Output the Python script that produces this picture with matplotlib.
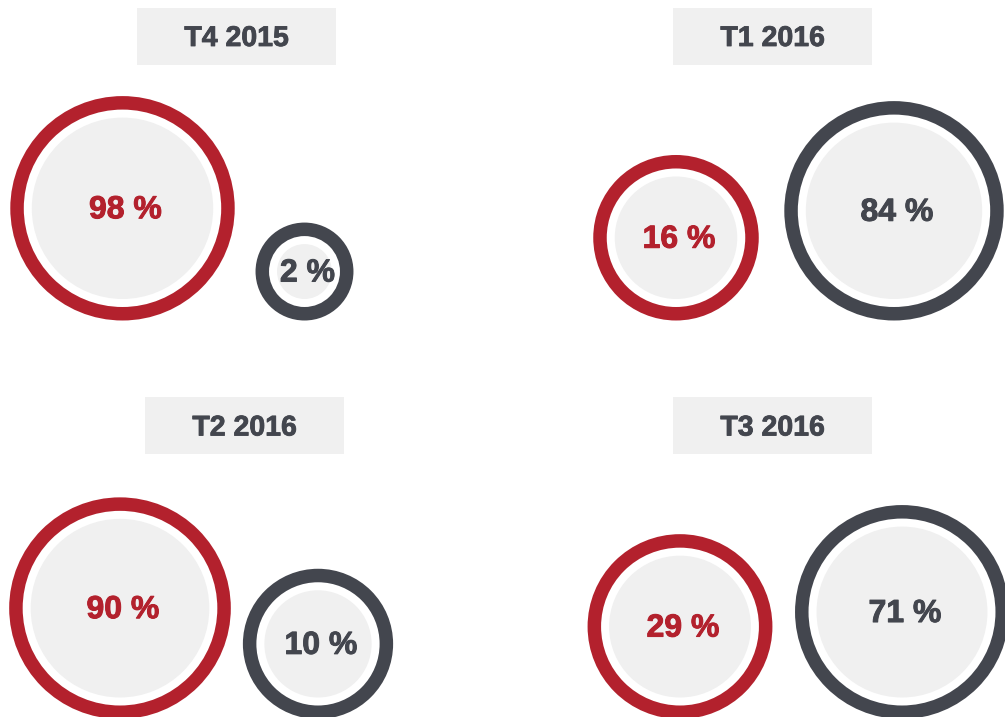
import numpy as np
import matplotlib
matplotlib.use("Agg")
import matplotlib.pyplot as plt
from matplotlib.patches import Circle, Rectangle
import matplotlib.patheffects as pe

# ---- data ----
quarters = ["T4 2015", "T1 2016", "T2 2016", "T3 2016"]
red_values = [98, 16, 90, 29]
dark_values = [2, 84, 10, 71]

# ---- styles / layout ----
RED = "#B3212D"
DARK = "#43464E"
FILL = "#F0F0F0"
FONT = ["Liberation Sans", "DejaVu Sans"]

W, H = 1005, 717
fig = plt.figure(figsize=(W / 100, H / 100), dpi=100)
ax = fig.add_axes([0, 0, 1, 1])
ax.set_xlim(0, W)
ax.set_ylim(H, 0)
ax.set_aspect("equal")
ax.axis("off")

# panel layout: title box (x, y), red centre x, dark centre x, baseline y
layout = [
    dict(box=(137, 7.5), rx=122.5, dx=304.5, base=320.5),
    dict(box=(673, 7.5), rx=676, dx=894, base=320.5),
    dict(box=(145, 397), rx=120, dx=318, base=719),
    dict(box=(673, 397), rx=680, dx=902, base=719),
]
BOX_W, BOX_H = 199, 57
RING = 13.5
GAP = 8


def radius(v):
    # logarithmic size scale
    return 37.7 + 16.25 * np.log(v)


def bubble(cx, base, value, color):
    r = radius(value)
    cy = base - r
    ax.add_patch(Circle((cx, cy), r, facecolor=color, edgecolor="none"))
    ax.add_patch(Circle((cx, cy), r - RING, facecolor="white", edgecolor="none"))
    ax.add_patch(Circle((cx, cy), r - RING - GAP, facecolor=FILL, edgecolor="none"))
    ax.text(cx + 3, cy + 2, f"{value} %", color=color, fontsize=23, fontweight="bold",
            family=FONT, ha="center", va="center",
            path_effects=[pe.withStroke(linewidth=0.7, foreground=color)])


for q, rv, dv, lay in zip(quarters, red_values, dark_values, layout):
    bx, by = lay["box"]
    ax.add_patch(Rectangle((bx, by), BOX_W, BOX_H, facecolor=FILL, edgecolor="none"))
    ax.text(bx + BOX_W / 2, by + BOX_H / 2 + 3, q, color=DARK, fontsize=20.5,
            fontweight="bold", family=FONT, ha="center", va="center",
            path_effects=[pe.withStroke(linewidth=0.6, foreground=DARK)])
    bubble(lay["rx"], lay["base"], rv, RED)
    bubble(lay["dx"], lay["base"], dv, DARK)

fig.savefig("out.png", dpi=100, facecolor="white")
